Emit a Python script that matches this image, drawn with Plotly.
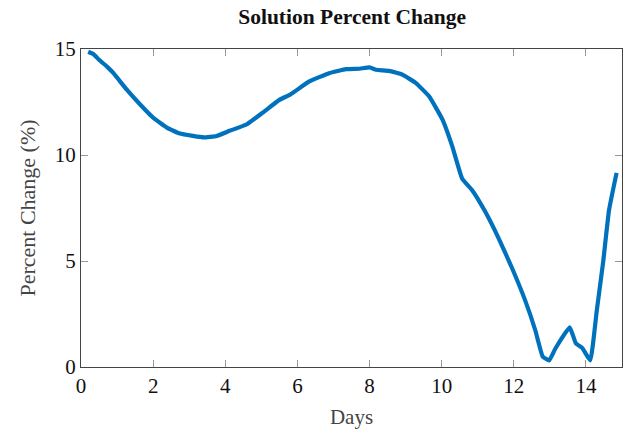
import plotly.graph_objects as go

days = [0.2, 0.35, 0.5, 0.72, 0.9, 1.27, 1.64, 2.0, 2.38, 2.74, 3.1, 3.4, 3.76, 4.12, 4.6, 5.04,
        5.5, 5.8, 6.33, 6.88, 7.35, 7.72, 8.0, 8.18, 8.54, 8.91, 9.28, 9.65, 10.02,
        10.29, 10.57, 10.85, 11.21, 11.58, 11.95, 12.32, 12.6, 12.8, 12.98, 13.15,
        13.55, 13.72, 13.9, 14.12, 14.3, 14.48, 14.64, 14.85]
pct = [14.87, 14.75, 14.49, 14.17, 13.86, 13.08, 12.38, 11.76, 11.29, 11.01, 10.9, 10.83, 10.9, 11.14,
       11.45, 12.0, 12.6, 12.85, 13.47, 13.86, 14.05, 14.07, 14.13, 14.02, 13.97, 13.79,
       13.4, 12.77, 11.68, 10.43, 8.88, 8.33, 7.32, 6.07, 4.67, 3.12, 1.71, 0.5, 0.31,
       0.86, 1.87, 1.12, 0.89, 0.31, 2.65, 4.99, 7.4, 9.16]

x_ticks = [0, 2, 4, 6, 8, 10, 12, 14]
y_ticks = [0, 5, 10, 15]

font_family = "Liberation Serif, Times New Roman, serif"

fig = go.Figure()
fig.add_trace(go.Scatter(x=days, y=pct, mode="lines",
                         line=dict(color="#0072BD", width=4.2, shape="spline", smoothing=0.35),
                         showlegend=False))

axis_common = dict(
    showgrid=False, zeroline=False, showline=True, linecolor="#444444", linewidth=1.3,
    mirror="allticks", ticks="inside", ticklen=7, tickcolor="#999999", tickwidth=1,
    tickfont=dict(family=font_family, size=21, color="#111111"),
)

fig.update_layout(
    width=631, height=432,
    margin=dict(l=81, r=8, t=49, b=62),
    paper_bgcolor="white", plot_bgcolor="white",
    title=dict(text="<b>Solution Percent Change</b>", x=0.558, xanchor="center",
               y=0.962, yanchor="middle",
               font=dict(family=font_family, size=21.5, color="#111111")),
    xaxis=dict(range=[0, 15], tickvals=x_ticks,
               title=dict(text="Days", font=dict(family=font_family, size=21, color="#444444"),
                          standoff=11),
               **axis_common),
    yaxis=dict(range=[0, 15], tickvals=y_ticks,
               title=dict(text="Percent Change (%)",
                          font=dict(family=font_family, size=22, color="#444444"),
                          standoff=12),
               **axis_common),
)

fig.write_html("out.html")
